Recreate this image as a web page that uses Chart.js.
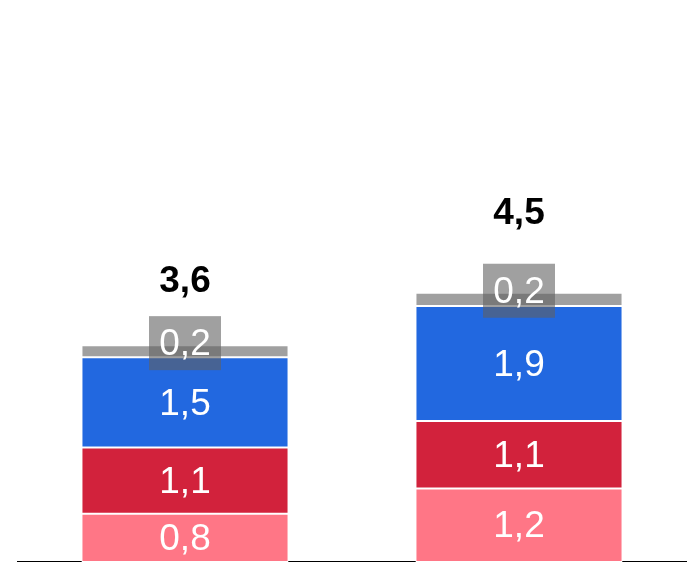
<!DOCTYPE html>
<html>
<head>
<meta charset="utf-8">
<script src="https://cdn.jsdelivr.net/npm/chart.js@4/dist/chart.umd.min.js"></script>
<style>
  html, body { margin: 0; padding: 0; background: #fff; }
  #wrap { width: 692px; height: 562px; position: relative; }
</style>
</head>
<body>
<div id="wrap"><canvas id="chart"></canvas></div>
<script>
const categories = ["A", "B"];
const pinkValues = [0.8, 1.22];
const redValues = [1.1, 1.12];
const blueValues = [1.5, 1.91];
const grayValues = [0.2, 0.22];

const seriesColors = ["#ff7686", "#d2223c", "#2268e0", "#a0a0a0"];
const fontFamily = "'Liberation Sans', Arial, Helvetica, sans-serif";

function fmt(v) {
  return v.toFixed(1).replace(".", ",");
}

const labelPlugin = {
  id: "stackLabels",
  afterDatasetsDraw(chart) {
    const ctx = chart.ctx;
    const yScale = chart.scales.y;
    const sets = chart.data.datasets;
    ctx.save();
    ctx.textAlign = "center";
    ctx.textBaseline = "middle";

    // values inside the coloured segments
    ctx.font = "37px " + fontFamily;
    ctx.fillStyle = "#fff";
    for (let d = 0; d < 3; d++) {
      chart.getDatasetMeta(d).data.forEach((bar, i) => {
        const mid = (bar.y + bar.base) / 2;
        ctx.fillText(fmt(sets[d].data[i]), bar.x, mid + 2);
      });
    }

    // small gray segment: label in a dark box at the top of the stack
    chart.getDatasetMeta(3).data.forEach((bar, i) => {
      const text = fmt(sets[3].data[i]);
      const w = 72, h = 54;
      const cy = bar.y - 2;
      ctx.fillStyle = "rgba(96,96,96,0.6)";
      ctx.fillRect(bar.x - w / 2, cy - h / 2, w, h);
      ctx.fillStyle = "#fff";
      ctx.fillText(text, bar.x, cy + 2);
    });

    // totals above each stack
    ctx.font = "bold 37px " + fontFamily;
    ctx.fillStyle = "#000";
    categories.forEach((c, i) => {
      const total = pinkValues[i] + redValues[i] + blueValues[i] + grayValues[i];
      const x = chart.getDatasetMeta(0).data[i].x;
      ctx.fillText(fmt(total), x, yScale.getPixelForValue(total * 1.3) + 2);
    });
    ctx.restore();
  }
};

const datasets = [pinkValues, redValues, blueValues, grayValues].map((vals, i) => ({
  label: "s" + i,
  data: vals,
  backgroundColor: seriesColors[i],
  borderColor: "#fff",
  borderWidth: 1,
  borderSkipped: false,
  categoryPercentage: 1,
  barPercentage: 0.62
}));

new Chart(document.getElementById("chart"), {
  type: "bar",
  data: { labels: categories, datasets },
  options: {
    responsive: true,
    maintainAspectRatio: false,
    animation: false,
    layout: { padding: { left: 18, right: 6, top: 0, bottom: 0 } },
    plugins: { legend: { display: false }, tooltip: { enabled: false } },
    scales: {
      x: {
        stacked: true,
        grid: { display: false, drawTicks: false },
        border: { display: true, color: "#000", width: 2 },
        ticks: { display: false, padding: 0 }
      },
      y: {
        stacked: true,
        display: false,
        min: 0,
        max: 9.33
      }
    }
  },
  plugins: [labelPlugin]
});
</script>
</body>
</html>
